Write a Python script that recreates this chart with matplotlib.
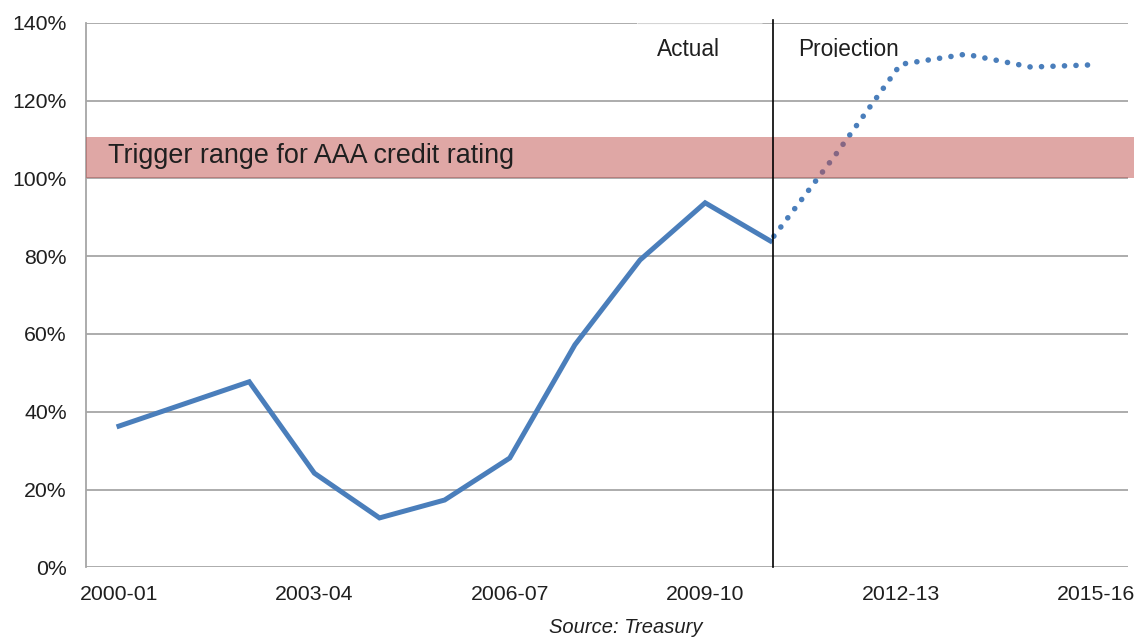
"""Debt ratio: actual vs projection with AAA trigger band."""

import matplotlib.pyplot as plt
from matplotlib.patches import Rectangle
from matplotlib.transforms import Bbox, TransformedBbox

plt.rcParams["font.family"] = ["Liberation Sans", "DejaVu Sans"]

YEARS = [
    "2000-01", "2001-02", "2002-03", "2003-04", "2004-05", "2005-06",
    "2006-07", "2007-08", "2008-09", "2009-10", "2010-11", "2011-12",
    "2012-13", "2013-14", "2014-15", "2015-16",
]
ACTUAL = [36.3, 42.0, 47.7, 24.2, 12.7, 17.3, 28.1, 57.2, 79.0, 93.7, 83.9]
# projection starts from the last actual year (2010-11)
PROJECTION = [83.9, 106.0, 129.3, 131.9, 128.6, 129.2]
TRIGGER_LOW, TRIGGER_HIGH = 100.0, 110.5
TICK_YEARS = ["2000-01", "2003-04", "2006-07", "2009-10", "2012-13", "2015-16"]
Y_TICKS = [0, 20, 40, 60, 80, 100, 120, 140]

BLUE = "#4A7EBB"
GRID = "#A6A6A6"
TEXT = "#1F1F1F"


def main() -> None:
    fig = plt.figure(figsize=(11.4, 6.43), dpi=100)
    ax = fig.add_axes([0.0758, 0.1177, 0.9141, 0.847])

    x_act = list(range(len(ACTUAL)))
    x_proj = list(range(len(ACTUAL) - 1, len(YEARS)))

    ax.plot(x_act, ACTUAL, color=BLUE, lw=3.6, solid_joinstyle="miter", zorder=3)
    ax.plot(x_proj, PROJECTION, color=BLUE, lw=4.0, linestyle=(1.0, (0.02, 2.05)),
            dash_capstyle="round", zorder=3)

    # trigger band sits on top of the line, half transparent
    ax.axhspan(TRIGGER_LOW, TRIGGER_HIGH, xmin=0, xmax=1.0055, color="#C0504D",
               alpha=0.5, lw=0, zorder=4, clip_on=False)
    ax.text(-0.17, 103.9, "Trigger range for AAA credit rating", fontsize=19.4,
            color=TEXT, va="baseline", ha="left", zorder=5)

    # split between actual and projection
    split = YEARS.index("2010-11")
    ax.axvline(split + 0.04, ymin=0, ymax=1.005, color="black", lw=1.2,
               zorder=6, clip_on=False)

    # white label box over top gridline
    ax.add_patch(Rectangle((7.95, 138.5), 1.92, 3.0, facecolor="white",
                           edgecolor="none", zorder=2, clip_on=False))
    ax.hlines(140, 7.95, 9.87, color="#D4D4D4", lw=0.8, zorder=2)
    ax.text(8.75, 131.5, "Actual", fontsize=16.3, color=TEXT, ha="center",
            va="baseline", zorder=5)
    proj = ax.text(10.43, 131.5, "Projection", fontsize=16.3, color=TEXT,
                   ha="left", va="baseline", zorder=5)
    proj.set_clip_on(True)
    proj.set_clip_box(TransformedBbox(Bbox([[0, 1 - 57 / 643], [1, 1]]),
                                      fig.transFigure))

    ax.set_xlim(-0.5, len(YEARS) - 0.5)
    ax.set_ylim(0, 140)
    ax.set_xticks([YEARS.index(y) for y in TICK_YEARS])
    ax.set_xticklabels(TICK_YEARS)
    ax.set_yticks(Y_TICKS)
    ax.set_yticklabels([f"{v}%" for v in Y_TICKS])
    ax.tick_params(axis="both", length=0, labelsize=15.3, colors=TEXT)
    ax.tick_params(axis="y", pad=14)
    ax.tick_params(axis="x", pad=13)

    ax.grid(axis="y", color=GRID, lw=1.3, zorder=1)
    ax.set_axisbelow(True)
    for side in ["top", "right", "bottom"]:
        ax.spines[side].set_visible(False)
    ax.spines["left"].set_color(GRID)
    ax.spines["left"].set_linewidth(1.3)

    fig.text(0.5491, 0.0157, "Source: Treasury", fontsize=14.5, style="italic",
             color=TEXT, ha="center", va="baseline")

    fig.savefig("out.png", dpi=100)


if __name__ == "__main__":
    main()
